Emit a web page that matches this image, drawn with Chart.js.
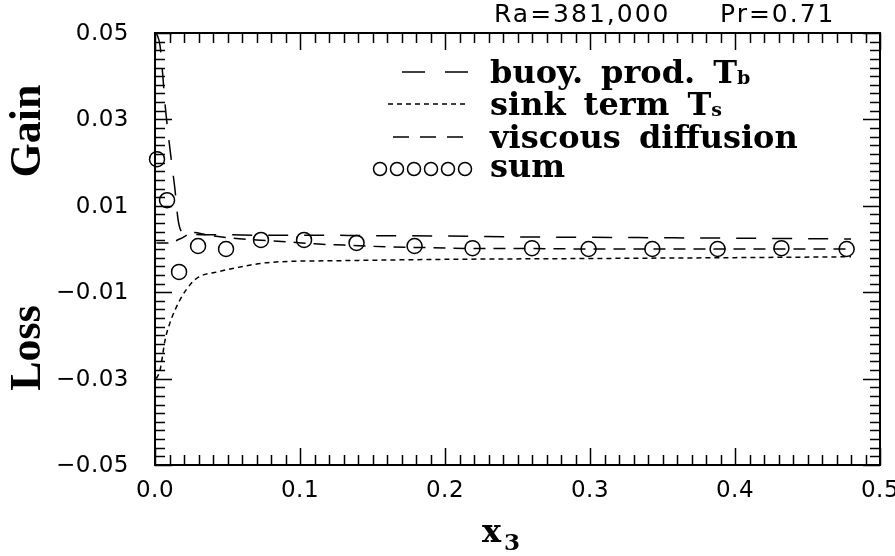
<!DOCTYPE html>
<html>
<head>
<meta charset="utf-8">
<script src="https://cdn.jsdelivr.net/npm/chart.js@4"></script>
<style>
  html, body { margin: 0; padding: 0; background: #fff; }
  #c { display: block; }
</style>
</head>
<body>
<canvas id="c" width="895" height="556"></canvas>
<script>
// values
const buoyX = [0.001, 0.0035, 0.0055, 0.007, 0.009, 0.0115, 0.0138, 0.0159, 0.019, 0.025, 0.035, 0.05, 0.07, 0.1, 0.15, 0.2, 0.25, 0.3, 0.35, 0.4, 0.45, 0.48];
const buoyY = [0.050, 0.047, 0.0396, 0.0333, 0.0269, 0.0199, 0.0137, 0.0068, 0.0038, 0.0034, 0.0033, 0.0033, 0.0032, 0.0032, 0.0031, 0.0030, 0.0028, 0.0027, 0.0026, 0.0025, 0.0024, 0.0023];

const sinkX = [0.001, 0.0035, 0.007, 0.0103, 0.0172, 0.0241, 0.03, 0.043, 0.066, 0.079, 0.128, 0.2, 0.3, 0.4, 0.48];
const sinkY = [-0.030, -0.028, -0.021, -0.0171, -0.0118, -0.0083, -0.0065, -0.0053, -0.0037, -0.0031, -0.0027, -0.0024, -0.0022, -0.0020, -0.0018];

const viscX = [0.001, 0.01, 0.017, 0.027, 0.035, 0.05, 0.07, 0.09, 0.11, 0.13, 0.16, 0.19, 0.22, 0.26, 0.3, 0.4, 0.48];
const viscY = [0.0014, 0.0014, 0.0023, 0.0038, 0.0033, 0.0026, 0.0021, 0.0017, 0.0012, 0.0009, 0.0005, 0.0003, 0.0001, 0.0001, 0.0000, 0.0000, 0.0000];

const sumX = [0.0014, 0.0083, 0.0166, 0.0297, 0.049, 0.0731, 0.1028, 0.139, 0.179, 0.219, 0.26, 0.299, 0.343, 0.388, 0.432, 0.477];
const sumY = [0.0208, 0.0113, -0.0053, 0.0007, 0.0000, 0.0021, 0.0021, 0.0014, 0.0007, 0.0002, 0.0002, 0.0000, 0.0000, 0.0000, 0.0002, 0.0000];

const xTickVals = [0, 0.1, 0.2, 0.3, 0.4, 0.5];
const yTickVals = [-0.05, -0.03, -0.01, 0.01, 0.03, 0.05];
const legendLabels = ['buoy. prod. T', 'sink term T', 'viscous diffusion', 'sum'];
const legendSubs = ['b', 's', '', ''];

const pts = (xs, ys) => xs.map((x, i) => ({ x: x, y: ys[i] }));

const serif = "'DejaVu Serif', serif";
const titleSerif = "'Liberation Serif', serif";
const sans = "'DejaVu Sans', sans-serif";

const fmtX = v => v.toFixed(1);
const fmtY = v => (v < -1e-9 ? '\u2212' : '') + Math.abs(v).toFixed(2);

// frame, inward ticks, tick labels, titles and legend
const decor = {
  id: 'decor',
  afterDraw(chart) {
    const { ctx, chartArea: a, scales } = chart;
    const xs = scales.x, ys = scales.y;
    ctx.save();
    ctx.strokeStyle = '#000';
    ctx.fillStyle = '#000';
    ctx.lineWidth = 2;
    ctx.strokeRect(a.left, a.top, a.right - a.left, a.bottom - a.top);

    ctx.lineWidth = 1.5;
    ctx.beginPath();
    for (let i = 0; i <= 50; i++) {
      const px = Math.round(xs.getPixelForValue(i * 0.01)) + 0.5;
      const len = i % 10 === 0 ? 17 : 10;
      ctx.moveTo(px, a.bottom); ctx.lineTo(px, a.bottom - len);
      ctx.moveTo(px, a.top); ctx.lineTo(px, a.top + len);
    }
    for (let i = 0; i <= 50; i++) {
      const py = Math.round(ys.getPixelForValue(-0.05 + i * 0.002)) + 0.5;
      const len = i % 10 === 0 ? 17 : 10;
      ctx.moveTo(a.left, py); ctx.lineTo(a.left + len, py);
      ctx.moveTo(a.right, py); ctx.lineTo(a.right - len, py);
    }
    ctx.stroke();

    // tick labels
    ctx.font = '23px ' + sans;
    ctx.letterSpacing = '0.5px';
    ctx.textBaseline = 'middle';
    ctx.textAlign = 'center';
    xs.ticks.forEach(t => ctx.fillText(fmtX(t.value), xs.getPixelForValue(t.value), 491));
    ctx.textAlign = 'right';
    ys.ticks.forEach(t => ctx.fillText(fmtY(t.value), 129, ys.getPixelForValue(t.value) + 1));

    // top note
    ctx.font = '25px ' + sans;
    ctx.letterSpacing = '2px';
    ctx.textBaseline = 'alphabetic';
    ctx.textAlign = 'left';
    ctx.fillText('Ra=381,000', 494, 22);
    ctx.fillText('Pr=0.71', 720, 22);
    ctx.letterSpacing = '0px';

    // y titles
    ctx.font = 'bold 44px ' + titleSerif;
    ctx.textAlign = 'center';
    ctx.textBaseline = 'middle';
    [['Gain', 131], ['Loss', 348]].forEach(([t, y]) => {
      ctx.save();
      ctx.translate(29, y);
      ctx.rotate(-Math.PI / 2);
      ctx.fillText(t, 0, 0);
      ctx.restore();
    });

    // x title
    ctx.textAlign = 'left';
    ctx.textBaseline = 'alphabetic';
    ctx.font = 'bold 32px ' + serif;
    ctx.fillText('x', 482, 542);
    ctx.font = 'bold 23px ' + serif;
    ctx.fillText('3', 504, 550);

    // legend
    const rows = [75, 107, 140, 169];
    const tx = 490;
    ctx.lineWidth = 1.5;
    const dashes = [[23, 20], [5, 4], [16, 11]];
    const spans = [[402, 468], [388, 468], [393, 468]];
    for (let k = 0; k < 3; k++) {
      ctx.setLineDash(dashes[k]);
      ctx.beginPath();
      ctx.moveTo(spans[k][0], rows[k] - 3);
      ctx.lineTo(spans[k][1], rows[k] - 3);
      ctx.stroke();
    }
    ctx.setLineDash([]);
    for (let k = 0; k < 6; k++) {
      ctx.beginPath();
      ctx.arc(380 + k * 17, rows[3], 6.5, 0, Math.PI * 2);
      ctx.stroke();
    }
    for (let k = 0; k < 4; k++) {
      ctx.font = 'bold 32px ' + serif;
      const words = legendLabels[k].split(' ');
      let x = tx;
      words.forEach(w => {
        ctx.fillText(w, x, rows[k] + 8);
        x += ctx.measureText(w).width + 18;
      });
      if (legendSubs[k]) {
        ctx.font = 'bold 19px ' + serif;
        ctx.fillText(legendSubs[k], x - 18, rows[k] + 9);
      }
    }
    ctx.restore();
  }
};

const lineStyle = (dash) => ({
  borderColor: '#000', borderWidth: 1.5, borderDash: dash,
  pointRadius: 0, fill: false, showLine: true, cubicInterpolationMode: 'monotone'
});

new Chart(document.getElementById('c'), {
  type: 'line',
  data: {
    datasets: [
      Object.assign({ label: 'buoy. prod. Tb', data: pts(buoyX, buoyY) }, lineStyle([20, 16])),
      Object.assign({ label: 'sink term Ts', data: pts(sinkX, sinkY) }, lineStyle([5, 4])),
      Object.assign({ label: 'viscous diffusion', data: pts(viscX, viscY) }, lineStyle([12, 8])),
      {
        label: 'sum', data: pts(sumX, sumY), showLine: false, clip: 10,
        pointStyle: 'circle', pointRadius: 7.5, borderWidth: 1.5,
        borderColor: '#000', backgroundColor: 'rgba(0,0,0,0)'
      }
    ]
  },
  options: {
    responsive: false,
    animation: false,
    layout: { padding: { top: 33, right: 15, left: 0, bottom: 0 } },
    plugins: { legend: { display: false }, tooltip: { enabled: false } },
    scales: {
      x: {
        type: 'linear', min: 0, max: 0.5,
        grid: { display: false }, border: { display: false },
        afterBuildTicks: s => { s.ticks = xTickVals.map(v => ({ value: v })); },
        ticks: { display: false },
        afterFit: s => { s.height = 91; }
      },
      y: {
        type: 'linear', min: -0.05, max: 0.05,
        grid: { display: false }, border: { display: false },
        afterBuildTicks: s => { s.ticks = yTickVals.map(v => ({ value: v })); },
        ticks: { display: false },
        afterFit: s => { s.width = 155; }
      }
    }
  },
  plugins: [decor]
});
</script>
</body>
</html>
